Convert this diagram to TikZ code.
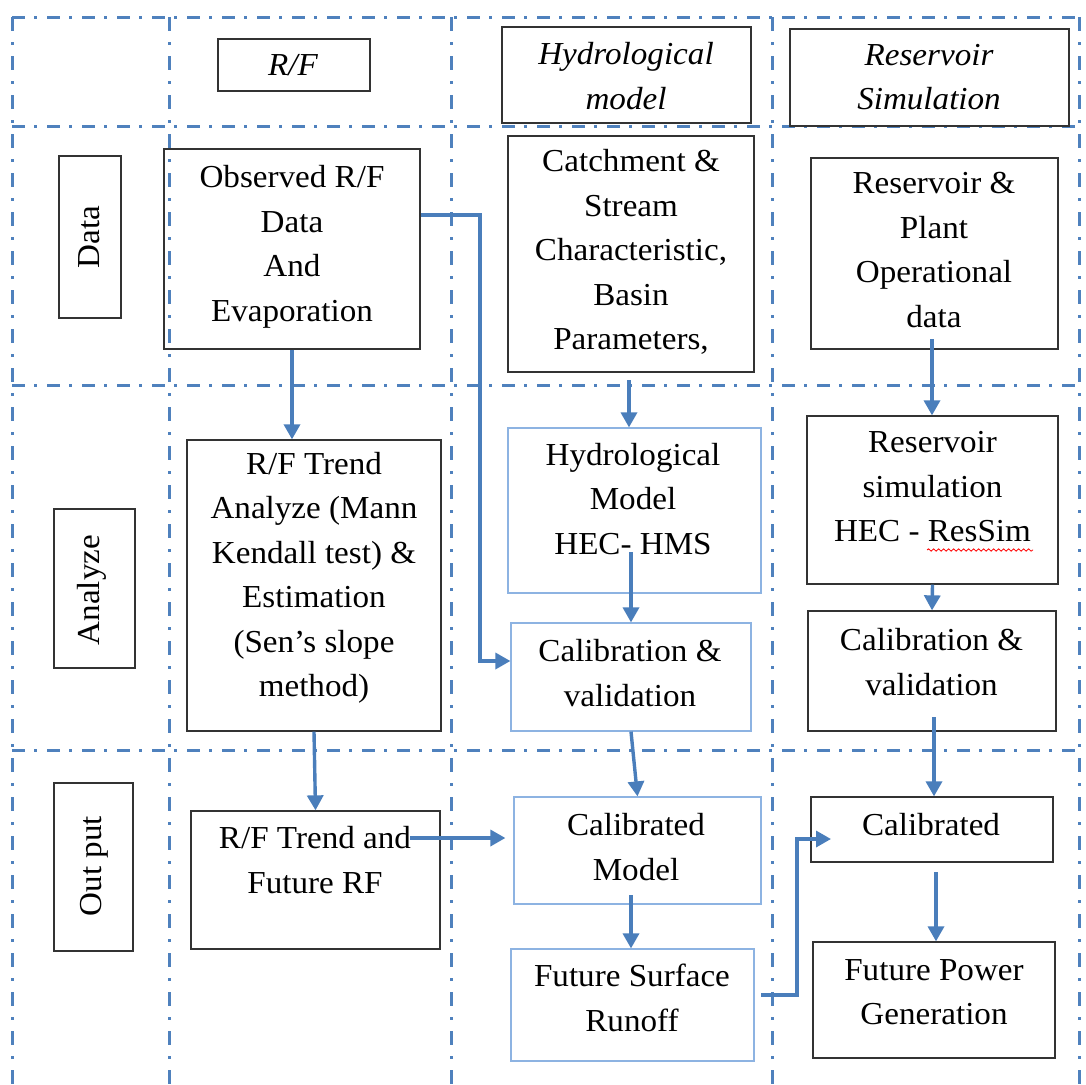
\documentclass[tikz,border=0pt]{standalone}
\usepackage{fontspec}
\setmainfont{Liberation Serif}[FakeStretch=1.035]
\usetikzlibrary{arrows.meta,decorations.pathmorphing}
\definecolor{gridblue}{RGB}{79,129,189}
\definecolor{arrblue}{RGB}{74,126,187}
\definecolor{lightbox}{RGB}{141,179,226}
\newcommand\mkbox[6]{\node[#6, minimum width={#4-#2}, minimum height={#5-#3}] (#1) at ({(#2+#4)/2},{(#3+#5)/2}) {};}
\begin{document}
\begin{tikzpicture}[x=1pt,y=-1pt,
  hgrid/.style={gridblue, line width=3pt, dash pattern=on 13pt off 9pt on 3pt off 10pt},
  vgrid/.style={gridblue, line width=3pt, dash pattern=on 14pt off 11pt on 3pt off 11pt},
  bbox/.style={draw=black!80, line width=1.3pt, rectangle, inner sep=0pt},
  lbox/.style={draw=lightbox, line width=1.2pt, rectangle, inner sep=0pt},
  txt/.style={font=\fontsize{32}{44.5}\selectfont, align=center, inner sep=0pt},
  itxt/.style={font=\fontsize{32}{44.5}\selectfont\itshape, align=center, inner sep=0pt},
  arr/.style={arrblue, line width=3.4pt, line join=miter, -{Triangle[length=15pt,width=16pt]}},
  ]
\useasboundingbox (0,0) rectangle (1086,1084);
% grid
\foreach \x in {12,169,451,772,1079} \draw[vgrid] (\x,17) -- (\x,1084);
\foreach \y in {17,126,385,750} \draw[hgrid] (12,\y) -- (1079,\y);
% boxes
\mkbox{hRF}{218}{39}{370}{91}{bbox}
\mkbox{hHyd}{502}{27}{751}{123}{bbox}
\mkbox{hRes}{790}{29}{1069}{126}{bbox}
\mkbox{lData}{59}{156}{121}{318}{bbox}
\mkbox{lAna}{54}{509}{135}{668}{bbox}
\mkbox{lOut}{54}{783}{133}{951}{bbox}
\mkbox{obs}{164}{149}{420}{349}{bbox}
\mkbox{catch}{508}{136}{754}{372}{bbox}
\mkbox{plant}{811}{158}{1058}{349}{bbox}
\mkbox{trend}{187}{440}{441}{731}{bbox}
\mkbox{hms}{508}{428}{761}{593}{lbox}
\mkbox{cal1}{511}{623}{751}{731}{lbox}
\mkbox{ressim}{807}{416}{1058}{584}{bbox}
\mkbox{cal2}{808}{611}{1056}{731}{bbox}
\mkbox{future}{191}{811}{440}{949}{bbox}
\mkbox{calmod}{514}{797}{761}{904}{lbox}
\mkbox{runoff}{511}{949}{754}{1061}{lbox}
\mkbox{calib}{811}{797}{1053}{862}{bbox}
\mkbox{power}{813}{942}{1055}{1058}{bbox}
% texts
\node[itxt] (tRF) at (293,65) {R/F};
\node[itxt] (tHyd) at (626,76) {Hydrological\\model};
\node[itxt] (tRes) at (929,77) {Reservoir\\Simulation};
\node[txt,rotate=90] (tData) at (89,237) {Data};
\node[txt] (tObs) at (292,247) {Observed R/F\\Data\\And\\Evaporation};
\node[txt] (tCat) at (631,252) {Catchment \&\\Stream\\Characteristic,\\Basin\\Parameters,};
\node[txt] (tPl) at (934,250) {Reservoir \&\\Plant\\Operational\\data};
\node[txt,rotate=90] (tAna) at (92,590) {Analyze};
\node[txt] (tTr) at (314,578) {R/F Trend\\Analyze (Mann\\Kendall test) \&\\Estimation\\(Sen’s slope\\method)};
\node[txt] (tHms) at (633,499) {Hydrological\\Model\\HEC- HMS};
\node[txt] (tC1) at (630,673) {Calibration \&\\validation};
\node[txt] (tRs) at (932.5,487) {Reservoir\\simulation\\HEC - ResSim};
\node[txt] (tC2) at (931.5,662) {Calibration \&\\validation};
\node[txt,rotate=90] (tOut) at (94,866) {Out put};
\node[txt] (tFu) at (315,860) {R/F Trend and\\Future RF};
\node[txt] (tCm) at (636,847) {Calibrated\\Model};
\node[txt] (tRo) at (632,998) {Future Surface\\Runoff};
\node[txt] (tCb) at (931,825) {Calibrated};
\node[txt] (tPw) at (934,992) {Future Power\\Generation};
% spell-check squiggle
\draw[red, line width=0.8pt, decorate, decoration={snake, amplitude=1.2pt, segment length=5pt}] (927,550) -- (1033,550);
% arrows
\coordinate (k1) at (480,215);
\coordinate (k2) at (480,661);
\draw[arr] (obs.east |- k1) -- (k1) -- (k2) -- (cal1.west |- k2);
\draw[arr] (obs.south) -- (obs.south |- trend.north);
\coordinate (k3) at (629,380);
\draw[arr] (k3) -- (k3 |- hms.north);
\coordinate (k4) at (631,552);
\draw[arr] (k4) -- (k4 |- cal1.north);
\draw[arr] (cal1.south) -- (calmod.north);
\coordinate (k5) at (631,895);
\draw[arr] (k5) -- (k5 |- runoff.north);
\coordinate (k6) at (932,339);
\draw[arr] (k6) -- (k6 |- ressim.north);
\draw[arr] (ressim.south) -- (cal2.north);
\coordinate (k7) at (934,717);
\draw[arr] (k7) -- (k7 |- calib.north);
\coordinate (k8) at (936,872);
\draw[arr] (k8) -- (k8 |- power.north);
\draw[arr] (trend.south) -- (future.north);
\coordinate (k9) at (410,838);
\draw[arr, shorten >=8pt] (k9) -- (k9 -| calmod.west);
\coordinate (k10) at (761,995);
\coordinate (k11) at (797,995);
\coordinate (k12) at (797,839);
\coordinate (k13) at (831,839);
\draw[arr] (k10) -- (k11) -- (k12) -- (k13);
\end{tikzpicture}
\end{document}
